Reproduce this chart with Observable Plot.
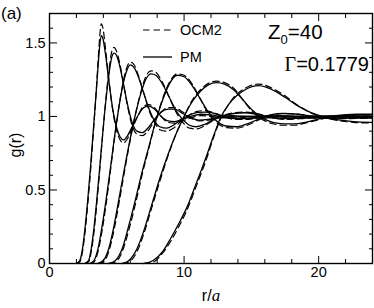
<!DOCTYPE html>
<html><head><meta charset="utf-8">
<script src="https://cdn.jsdelivr.net/npm/d3@7"></script>
<script src="https://cdn.jsdelivr.net/npm/@observablehq/plot@0.6"></script>
<style>body{margin:0;background:#fff}</style>
</head><body><div id="chart"></div>
<script>
// Tick values
const xMajor = [0, 10, 20];
const xMinor = [2, 4, 6, 8, 12, 14, 16, 18, 22];
const yMajor = [0, 0.5, 1, 1.5];
const yMinor = [0.1, 0.2, 0.3, 0.4, 0.6, 0.7, 0.8, 0.9, 1.1, 1.2, 1.3, 1.4, 1.6];

// Curve 1
const r1 = [2.0,2.25,2.45,2.65,2.85,3.05,3.25,3.45,3.6,3.72,3.85,3.97,4.15,4.4,4.7,5.0,5.25,5.5,5.8,6.2,6.6,7.0,7.4,7.8,8.3,8.8,9.3,9.9,10.5,11.2,12,13,14.5,24];
const pm1 = [0,0.02,0.1,0.25,0.44,0.66,0.9,1.14,1.33,1.47,1.55,1.53,1.43,1.25,1.05,0.92,0.86,0.84,0.87,0.94,1.01,1.06,1.07,1.05,1.0,0.97,0.965,0.98,1.0,1.015,1.01,0.995,1.0,1.0];
const ocm1 = [0,0.01,0.08,0.22,0.41,0.63,0.88,1.14,1.36,1.53,1.63,1.6,1.47,1.26,1.04,0.9,0.84,0.82,0.85,0.93,1.01,1.07,1.08,1.06,1.0,0.96,0.955,0.97,0.99,1.005,1.0,0.99,0.99,0.99];
// Curve 2
const r2 = [2.6,2.9,3.1,3.3,3.5,3.7,3.9,4.1,4.3,4.5,4.65,4.8,4.95,5.2,5.5,5.8,6.1,6.5,6.9,7.3,7.8,8.3,8.8,9.3,9.9,10.5,11.1,11.8,12.6,13.5,15,24];
const pm2 = [0,0.02,0.1,0.24,0.42,0.62,0.83,1.03,1.2,1.34,1.41,1.43,1.42,1.35,1.22,1.08,0.97,0.9,0.89,0.92,0.98,1.03,1.05,1.05,1.02,0.99,0.975,0.98,0.995,1.005,1.0,1.0];
const ocm2 = [0,0.01,0.08,0.21,0.39,0.6,0.82,1.03,1.22,1.37,1.45,1.47,1.45,1.37,1.22,1.07,0.95,0.88,0.87,0.9,0.97,1.03,1.06,1.06,1.03,0.99,0.97,0.975,0.99,1.0,0.99,0.99];
// Curve 3
const r3 = [3.0,3.3,3.6,3.9,4.2,4.5,4.8,5.1,5.4,5.7,6.0,6.3,6.6,7.0,7.4,7.8,8.2,8.7,9.2,9.8,10.4,11.0,11.6,12.3,13.0,13.8,14.6,15.6,17,19,24];
const pm3 = [0,0.02,0.1,0.25,0.43,0.63,0.84,1.03,1.19,1.3,1.35,1.33,1.27,1.16,1.05,0.97,0.93,0.92,0.94,0.98,1.01,1.028,1.03,1.02,1.0,0.985,0.985,0.995,1.005,1.0,1.0];
const ocm3 = [0,0.01,0.08,0.22,0.4,0.61,0.83,1.03,1.2,1.32,1.37,1.35,1.28,1.16,1.04,0.96,0.91,0.9,0.92,0.97,1.01,1.035,1.04,1.02,0.995,0.98,0.98,0.99,1.0,0.99,0.99];
// Curve 4
const r4 = [3.6,4.0,4.4,4.8,5.2,5.6,6.0,6.4,6.8,7.2,7.55,7.9,8.4,8.9,9.4,9.9,10.4,10.9,11.5,12.2,12.9,13.7,14.5,15.4,16.4,17.5,18.7,20,22,24];
const pm4 = [0,0.02,0.1,0.26,0.46,0.66,0.85,1.02,1.16,1.26,1.29,1.28,1.22,1.13,1.04,0.98,0.94,0.93,0.945,0.98,1.005,1.02,1.025,1.015,0.995,0.985,0.99,1.0,1.005,1.0];
const ocm4 = [0,0.01,0.08,0.23,0.43,0.64,0.84,1.02,1.17,1.28,1.31,1.3,1.23,1.13,1.03,0.96,0.92,0.915,0.935,0.975,1.005,1.025,1.03,1.02,0.995,0.98,0.985,0.995,1.0,0.99];
// Curve 5
const r5 = [4.4,4.9,5.4,5.9,6.4,6.9,7.4,7.9,8.4,8.9,9.5,10.0,10.6,11.2,11.8,12.4,13.1,13.9,14.7,15.5,16.4,17.4,18.5,19.6,20.8,22,24];
const pm5 = [0,0.02,0.1,0.26,0.44,0.63,0.8,0.97,1.11,1.22,1.28,1.27,1.21,1.12,1.03,0.97,0.935,0.93,0.95,0.98,1.01,1.02,1.015,1.0,0.99,0.99,1.0];
const ocm5 = [0,0.01,0.08,0.23,0.41,0.61,0.79,0.97,1.12,1.23,1.29,1.28,1.22,1.12,1.02,0.96,0.925,0.92,0.94,0.975,1.005,1.02,1.015,1.0,0.985,0.985,0.99];
// Curve 6
const r6 = [5.4,5.9,6.5,7.0,7.6,8.2,8.8,9.4,10.0,10.6,11.2,11.8,12.4,13.0,13.7,14.4,15.1,15.8,16.6,17.4,18.2,19.0,19.9,20.8,21.8,22.8,24];
const pm6 = [0,0.02,0.1,0.22,0.4,0.58,0.74,0.88,1.0,1.1,1.17,1.215,1.23,1.22,1.18,1.11,1.04,0.99,0.96,0.95,0.95,0.96,0.98,1.0,1.01,1.015,1.015];
const ocm6 = [0,0.01,0.08,0.2,0.38,0.56,0.73,0.88,1.0,1.11,1.18,1.225,1.24,1.23,1.19,1.11,1.03,0.98,0.95,0.94,0.94,0.955,0.975,0.995,1.005,1.01,1.01];
// Curve 7
const r7 = [7.0,7.7,8.4,9.0,9.6,10.2,10.8,11.3,11.7,12.2,12.7,13.3,13.9,14.5,15.1,15.5,16.1,16.8,17.5,18.3,19.1,19.9,20.7,21.6,22.6,24];
const pm7 = [0,0.02,0.08,0.17,0.27,0.38,0.52,0.64,0.74,0.87,0.99,1.08,1.14,1.18,1.205,1.21,1.2,1.17,1.13,1.08,1.04,1.01,0.99,0.975,0.965,0.96];
const ocm7 = [0,0.01,0.07,0.15,0.25,0.36,0.5,0.62,0.72,0.86,0.98,1.08,1.15,1.19,1.215,1.22,1.21,1.18,1.14,1.085,1.04,1.005,0.985,0.97,0.96,0.955];

const curves = [
  {r: r1, pm: pm1, ocm: ocm1}, {r: r2, pm: pm2, ocm: ocm2}, {r: r3, pm: pm3, ocm: ocm3},
  {r: r4, pm: pm4, ocm: ocm4}, {r: r5, pm: pm5, ocm: ocm5}, {r: r6, pm: pm6, ocm: ocm6},
  {r: r7, pm: pm7, ocm: ocm7}
];
const pmRows = [], ocmRows = [];
curves.forEach((c, i) => c.r.forEach((r, j) => {
  pmRows.push({curve: i, r, g: c.pm[j]});
  ocmRows.push({curve: i, r, g: c.ocm[j]});
}));

const blank = () => "";
const chart = Plot.plot({
  width: 374, height: 308,
  marginLeft: 49, marginRight: 2, marginTop: 13, marginBottom: 45,
  style: {fontFamily: "'Liberation Sans', Arial, sans-serif", fontSize: "14.5px", color: "black", background: "white"},
  x: {domain: [0, 24]},
  y: {domain: [0, 1.7]},
  marks: [
    Plot.line(ocmRows, {x: "r", y: "g", z: "curve", stroke: "black", strokeWidth: 1.2, strokeDasharray: "6.5,4", curve: "monotone-x"}),
    Plot.line(pmRows, {x: "r", y: "g", z: "curve", stroke: "black", strokeWidth: 1.3, curve: "monotone-x"}),
    Plot.axisX({anchor: "bottom", ticks: xMajor, tickSize: -7, tickPadding: 10, tickFormat: d => String(d), label: null}),
    Plot.axisX({anchor: "bottom", ticks: xMinor, tickSize: -4, tickFormat: blank, label: null}),
    Plot.axisX({anchor: "top", ticks: xMajor, tickSize: -7, tickFormat: blank, label: null}),
    Plot.axisX({anchor: "top", ticks: xMinor, tickSize: -4, tickFormat: blank, label: null}),
    Plot.axisY({anchor: "left", ticks: yMajor, tickSize: -8, tickPadding: 12, tickFormat: d => String(d), label: null}),
    Plot.axisY({anchor: "left", ticks: yMinor, tickSize: -4, tickFormat: blank, label: null}),
    Plot.axisY({anchor: "right", ticks: yMajor, tickSize: -8, tickFormat: blank, label: null}),
    Plot.axisY({anchor: "right", ticks: yMinor, tickSize: -4, tickFormat: blank, label: null}),
    Plot.frame({stroke: "black", strokeWidth: 1.4})
  ]
});
document.getElementById("chart").appendChild(chart);

// Annotations, legend and axis labels
const svg = d3.select(chart);
const sans = "'Liberation Sans', Arial, sans-serif";
const serif = "'Liberation Serif', 'Times New Roman', serif";

svg.append("text").attr("x", 1).attr("y", 19).attr("text-anchor", "start").attr("font-family", sans).attr("font-size", 17).attr("fill", "black").text("(a)");

svg.append("text").attr("transform", "translate(21,145) rotate(-90)").attr("text-anchor", "middle")
  .attr("font-family", sans).attr("font-size", 16).attr("fill", "black").text("g(r)");

const xl = svg.append("text").attr("x", 211).attr("y", 301).attr("text-anchor", "middle")
  .attr("font-family", sans).attr("font-size", 16).attr("fill", "black");
xl.append("tspan").text("r/");
xl.append("tspan").attr("font-family", serif).attr("font-style", "italic").attr("font-size", 17).text("a");

// legend
const leg = svg.append("g").attr("text-anchor", "start");
leg.append("line").attr("x1", 143).attr("x2", 172).attr("y1", 30).attr("y2", 30)
  .attr("stroke", "black").attr("stroke-width", 1.2).attr("stroke-dasharray", "6.5,4");
leg.append("text").attr("x", 180).attr("y", 35).attr("font-family", sans).attr("font-size", 14.5).attr("fill", "black").text("OCM2");
leg.append("line").attr("x1", 143).attr("x2", 172).attr("y1", 57).attr("y2", 57)
  .attr("stroke", "black").attr("stroke-width", 1.3);
leg.append("text").attr("x", 180).attr("y", 62).attr("font-family", sans).attr("font-size", 14.5).attr("fill", "black").text("PM");

// parameters
const z = svg.append("text").attr("x", 268).attr("y", 39).attr("text-anchor", "start").attr("font-family", sans).attr("font-size", 20.5).attr("fill", "black");
z.append("tspan").text("Z");
z.append("tspan").attr("font-size", 13).attr("dy", 5).text("0");
z.append("tspan").attr("dy", -5).text("=40");

const gm = svg.append("text").attr("x", 369).attr("y", 71).attr("text-anchor", "end").attr("font-family", sans).attr("font-size", 20).attr("fill", "black");
gm.append("tspan").attr("font-family", serif).text("Γ");
gm.append("tspan").text("=0.1779");
</script>
</body></html>
